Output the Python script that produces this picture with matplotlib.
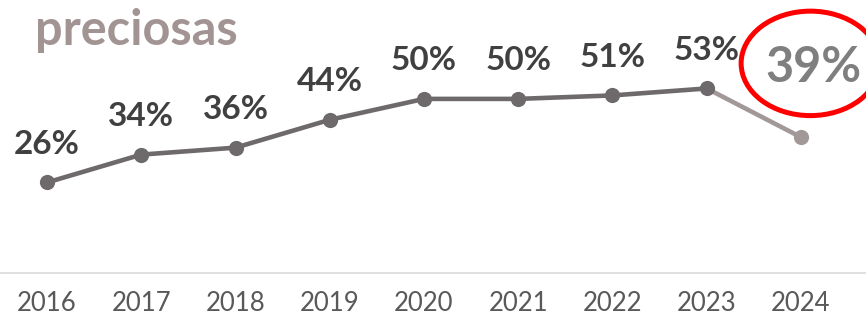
import matplotlib

matplotlib.use("Agg")
import matplotlib.pyplot as plt  # noqa: E402
from matplotlib.patches import Ellipse  # noqa: E402

plt.rcParams["font.family"] = ["Lato", "DejaVu Sans"]

YEARS = ["2016", "2017", "2018", "2019", "2020", "2021", "2022", "2023", "2024"]
SHARE = [26, 34, 36, 44, 50, 50, 51, 53, 39]
LABELS = ["26%", "34%", "36%", "44%", "50%", "50%", "51%", "53%", "39%"]

DARK = "#6e6a6b"
LIGHT = "#a39898"

fig = plt.figure(figsize=(8.66, 3.21), dpi=100)
ax = fig.add_axes([0, 0.1495, 1, 0.8505])
xs = list(range(len(YEARS)))

# main series up to 2023, last segment lighter
ax.plot(xs[:-1], SHARE[:-1], color=DARK, lw=3.3, solid_capstyle="round", zorder=2)
ax.plot(xs[-2:], SHARE[-2:], color=LIGHT, lw=3.3, zorder=1)
ax.scatter(xs[:-1], SHARE[:-1], s=120, color=DARK, zorder=3, linewidths=0)
ax.scatter(xs[-1:], SHARE[-1:], s=120, color=LIGHT, zorder=3, linewidths=0)

for x, y, lab in zip(xs[:-1], SHARE[:-1], LABELS[:-1]):
    ax.annotate(lab, (x, y), xytext=(0, 17), textcoords="offset points",
                ha="center", va="bottom", fontsize=24, fontweight="bold",
                color="#404040")
ax.annotate(LABELS[-1], (xs[-1], SHARE[-1]), xytext=(9, 34), textcoords="offset points",
            ha="center", va="bottom", fontsize=35, fontweight="bold",
            color="#7f7f7f")

ax.add_patch(Ellipse((8.10, 60.2), 1.47, 30, fill=False, ec="#ff0000", lw=3.6,
                     clip_on=False, zorder=4))

ax.set_xlim(-0.499, 8.69)
ax.set_ylim(0, 78.4)
ax.set_xticks(xs)
ax.set_xticklabels(YEARS, fontsize=18.5, color="#595959")
ax.tick_params(axis="x", length=0, pad=13)
ax.set_yticks([])
for side in ("left", "right", "top"):
    ax.spines[side].set_visible(False)
ax.spines["bottom"].set_color("#d9d9d9")
ax.spines["bottom"].set_linewidth(1.2)
ax.patch.set_visible(False)

fig.text(0.04, 0.86, "preciosas", fontsize=35, fontweight="bold", color="#a39494",
         ha="left", va="baseline")

fig.savefig("out.png", dpi=100)
